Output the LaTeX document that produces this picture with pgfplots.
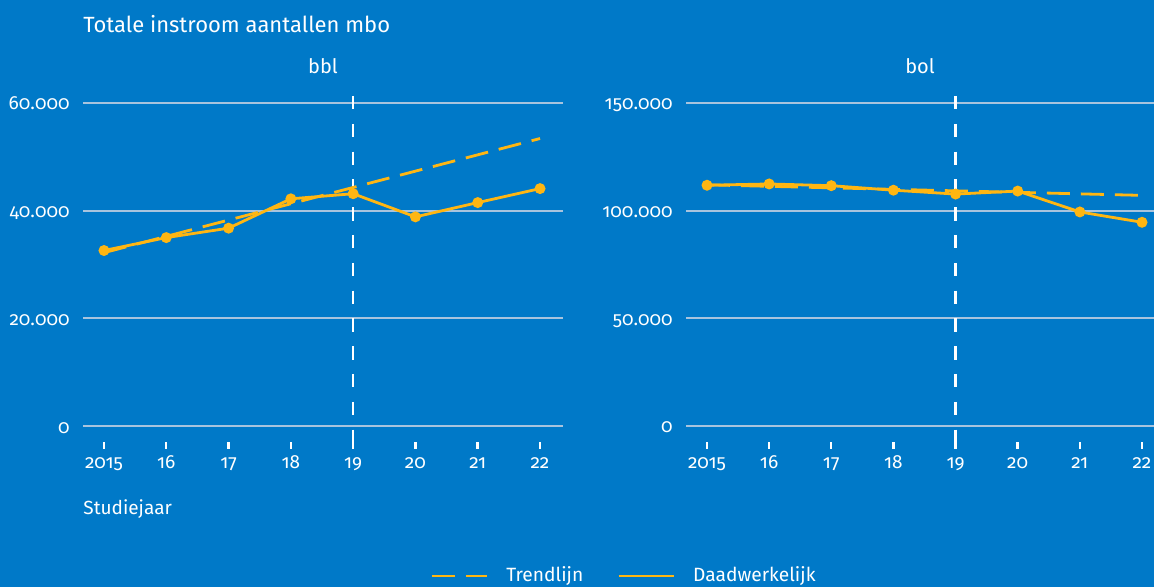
\documentclass[border=0pt]{standalone}
\usepackage{fontspec}
\setmainfont{Fira Sans}[Numbers=OldStyle]
\usepackage{pgfplots}
\pgfplotsset{compat=1.18}

\definecolor{bg}{HTML}{0079C8}
\definecolor{geel}{HTML}{FFB612}
\definecolor{rooster}{HTML}{A8C4DE}

\pgfplotsset{
  paneel/.style={
    scale only axis, width=240pt, height=173pt,
    anchor=south west,
    xmin=2014.663, xmax=2022.369,
    axis line style={draw=none},
    ymajorgrids, grid style={rooster, line width=1pt},
    xtick={2015,...,2022},
    xticklabels={2015,16,17,18,19,20,21,22},
    xtick pos=bottom, tick align=inside, major tick length=3.5pt,
    xtick style={white, line width=1.2pt},
    ytick style={draw=none},
    ticklabel style={font=\fontsize{9.5}{11}\selectfont, text=white, inner sep=0pt},
    xticklabel style={anchor=base, yshift=-10pt},
    yticklabel style={anchor=base east, yshift=-3.5pt, xshift=-6.5pt,
      /pgf/number format/.cd, fixed, precision=0, 1000 sep={.}, assume math mode=true},
    scaled ticks=false,
    title style={at={(0.5,1)}, anchor=base, yshift=8.7pt, text=white,
      font=\fontsize{10}{12}\selectfont, inner sep=0pt},
    clip=false,
    trend/.style={geel, line width=1.4pt, dash pattern=on 11.5pt off 5.5pt},
    echt/.style={geel, line width=1.4pt, mark=*, mark size=2pt, mark options={solid}},
    peil/.style={white, line width=1.2pt, dash pattern=on 6.7pt off 7.2pt, forget plot},
  }
}

\begin{document}
\begin{tikzpicture}
\fill[bg] (0pt,0pt) rectangle (577pt,293.5pt);
\useasboundingbox (0pt,0pt) rectangle (577pt,293.5pt);

\node[anchor=base west, text=white, font=\fontsize{11}{13}\selectfont, inner sep=0pt]
  at (41.5pt,277pt) {Totale instroom aantallen mbo};

% bbl
\begin{axis}[paneel, at={(41.5pt,69pt)},
  ymin=-4260, ymax=60000, ytick={0,20000,40000,60000},
  title={bbl},
  xlabel={Studiejaar},
  xlabel style={at={(axis description cs:0,0)}, anchor=base west, yshift=-33pt,
    text=white, font=\fontsize{9.5}{12}\selectfont, inner sep=0pt},
  legend columns=2,
  legend style={draw=none, fill=none, inner sep=0pt,
    at={(axis description cs:0.723,-0.367)}, anchor=west,
    font=\fontsize{9.6}{12}\selectfont, text=white,
    nodes={inner sep=0pt},
    /tikz/every odd column/.append style={column sep=9pt},
    /tikz/every even column/.append style={column sep=17pt}},
  legend cell align=left,
  legend image code/.code={\draw[#1] (0pt,0pt) -- (27.5pt,0pt);},
]
\addplot[peil] coordinates {(2019,61300) (2019,-4260)};
\addplot[trend] coordinates {(2015,32200) (2022,53400)};
\addlegendentry{Trendlijn}
\addplot[echt] coordinates {
  (2015,32600) (2016,35000) (2017,36750) (2018,42200)
  (2019,43150) (2020,38850) (2021,41500) (2022,44100)};
\addlegendentry{Daadwerkelijk}
\end{axis}

% bol
\begin{axis}[paneel, at={(343pt,69pt)}, width=234pt,
  xmin=2014.662, xmax=2022.193,
  ymin=-10680, ymax=150000, ytick={0,50000,100000,150000},
  title={bol},
]
\addplot[peil] coordinates {(2019,153250) (2019,-10680)};
\addplot[trend] coordinates {(2015,112000) (2022,107100)};
\addplot[echt] coordinates {
  (2015,111800) (2016,112400) (2017,111600) (2018,109500)
  (2019,107700) (2020,109100) (2021,99400) (2022,94600)};
\end{axis}
\end{tikzpicture}
\end{document}
